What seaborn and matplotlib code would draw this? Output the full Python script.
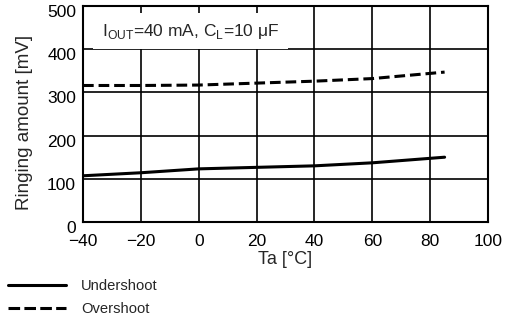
import numpy as np
import pandas as pd
import matplotlib
matplotlib.use('Agg')
import matplotlib.pyplot as plt
import matplotlib.transforms as mtransforms
import seaborn as sns

# 数据
temps = [-40, -20, 0, 40, 60, 85]
undershoot = [107, 114, 123, 130, 137, 150]
overshoot = [316, 316, 317, 326, 332, 347]
series_names = ['Undershoot', 'Overshoot']

sns.set_style('white')
plt.rcParams['font.family'] = ['Liberation Sans', 'DejaVu Sans']
plt.rcParams['mathtext.fontset'] = 'custom'
plt.rcParams['mathtext.rm'] = 'Liberation Sans'
plt.rcParams['axes.unicode_minus'] = True

df = pd.DataFrame({
    'Ta': temps * 2,
    'mV': undershoot + overshoot,
    'kind': [series_names[0]] * len(temps) + [series_names[1]] * len(temps),
})

fig = plt.figure(figsize=(5.11, 3.2), dpi=100)
ax = fig.add_axes([83 / 511, 1 - 222 / 320, 405 / 511, 216 / 320])

sns.lineplot(data=df, x='Ta', y='mV', style='kind', color='black', linewidth=2.2,
             dashes={series_names[0]: '', series_names[1]: (3.5, 1.6)},
             legend=False, ax=ax, zorder=5)

ax.set_xlim(-40, 100)
ax.set_ylim(0, 500)
ax.set_xticks(np.arange(-40, 101, 20))
ax.set_yticks(np.arange(0, 501, 100))
ax.grid(True, color='black', linewidth=1.2)
ax.set_axisbelow(True)
for s in ax.spines.values():
    s.set_color('black')
    s.set_linewidth(1.5)
ax.tick_params(length=0, labelsize=12.5, colors='black')
ax.tick_params(axis='x', pad=9)
ax.tick_params(axis='y', pad=5)
# y轴刻度文字略向下偏
off = mtransforms.ScaledTranslation(0, -5 / 100, fig.dpi_scale_trans)
for lab in ax.get_yticklabels():
    lab.set_transform(lab.get_transform() + off)

ax.set_xlabel('Ta [°C]', fontsize=13)
ax.xaxis.set_label_coords(0.5, -0.132)
ax.set_ylabel('Ringing amount [mV]', fontsize=13.5)
ax.yaxis.set_label_coords(-0.123, 0.463)

ax.text(-33.5, 442, r'I$_\mathrm{OUT}$=40 mA, C$_\mathrm{L}$=10 μF', fontsize=12.5,
        va='center', ha='left', zorder=4,
        bbox=dict(boxstyle='square,pad=0.5', fc='white', ec='none'))

# 图例
h1 = plt.Line2D([], [], color='black', linewidth=2.2)
h2 = plt.Line2D([], [], color='black', linewidth=2.2, linestyle=(0, (3.8, 1.4)))
fig.legend([h1, h2], series_names, loc='upper left', bbox_to_anchor=(0.005, 0.145),
           frameon=False, fontsize=10.6, handlelength=3.9, handletextpad=1.05,
           labelspacing=0.6, borderaxespad=0)

fig.savefig('out.png', dpi=100)
plt.close()
